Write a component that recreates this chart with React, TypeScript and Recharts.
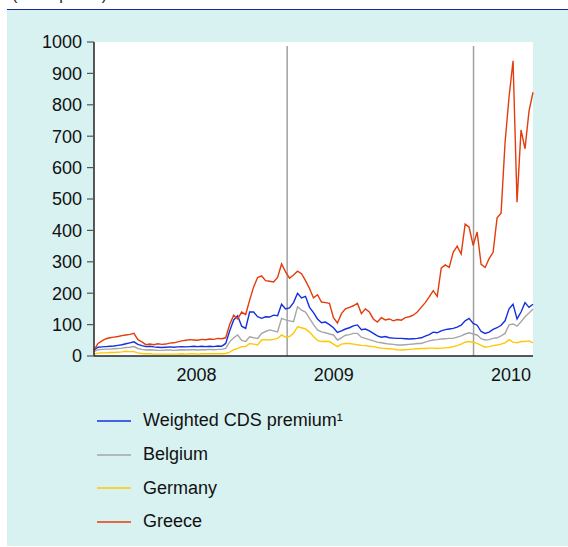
import React from "react";
import { CartesianGrid, Line, LineChart, ReferenceLine, XAxis, YAxis } from "recharts";

// x is a plain sample index, 0..110 across the plot
const yearLabels = ["2008", "2009", "2010"];
const yearTickPos = [25.7, 60.1, 104.5];
const eventMarks = [48.4, 95.1];
const yTicks = [0, 100, 200, 300, 400, 500, 600, 700, 800, 900, 1000];

const weighted = [
  19, 28, 29, 30, 31, 32, 34, 36, 39, 42, 45, 37, 33, 30, 31, 29, 28, 27, 28, 29,
  28, 29, 30, 29, 30, 31, 30, 31, 30, 31, 30, 32, 31, 40, 80, 115, 128, 95, 88, 140,
  140, 125, 120, 125, 124, 130, 128, 165, 150, 153, 170, 200, 185, 190, 155, 138, 118, 106, 108, 100,
  90, 75, 80, 86, 90, 96, 99, 84, 86, 80, 72, 64, 60, 62, 58, 57, 56, 56, 55, 54,
  55, 56, 58, 63, 68, 76, 74, 80, 84, 86, 88, 92, 98, 112, 120, 104, 98, 78, 72, 76,
  85, 90, 98, 112, 150, 165, 118, 140, 170, 155, 165,
];

const belgium = [
  14, 20, 21, 22, 22, 23, 24, 25, 27, 28, 30, 24, 21, 19, 20, 19, 18, 18, 19, 19,
  18, 19, 20, 19, 20, 20, 19, 20, 20, 21, 20, 21, 21, 24, 45, 58, 67, 50, 46, 61,
  58, 56, 72, 78, 83, 80, 77, 120, 115, 112, 109, 157, 146, 140, 120, 100, 83, 77, 74, 70,
  67, 51, 58, 66, 68, 72, 72, 60, 56, 52, 48, 44, 42, 40, 38, 37, 35, 35, 36, 37,
  38, 40, 40, 44, 48, 51, 52, 54, 55, 56, 56, 60, 64, 70, 74, 70, 67, 55, 51, 52,
  56, 58, 64, 72, 99, 102, 95, 109, 125, 137, 150,
];

const germany = [
  6, 9, 10, 10, 11, 11, 12, 13, 15, 14, 14, 10, 8, 7, 7, 6, 6, 6, 6, 6,
  6, 6, 7, 6, 7, 7, 6, 7, 7, 7, 7, 7, 7, 8, 12, 20, 24, 30, 30, 40,
  38, 35, 51, 52, 51, 53, 56, 67, 60, 62, 72, 93, 90, 86, 76, 62, 50, 46, 47, 46,
  38, 30, 38, 40, 40, 38, 36, 34, 33, 31, 30, 27, 25, 24, 23, 22, 20, 19, 20, 21,
  22, 23, 24, 24, 25, 25, 24, 25, 26, 27, 30, 33, 38, 44, 46, 44, 40, 34, 28, 30,
  33, 35, 38, 42, 52, 44, 42, 46, 46, 48, 42,
];

const greece = [
  19, 40, 48, 55, 58, 60, 62, 65, 67, 69, 72, 52, 45, 36, 38, 36, 39, 37, 38, 41,
  42, 45, 48, 50, 52, 51, 50, 53, 52, 54, 53, 56, 55, 58, 100, 130, 118, 140, 132, 178,
  220, 250, 255, 240, 238, 236, 250, 293, 268, 248, 258, 270, 262, 240, 215, 185, 195, 172, 170, 168,
  122, 105, 135, 150, 155, 160, 168, 135, 150, 140, 118, 108, 122, 115, 118, 112, 116, 114, 122, 125,
  130, 140, 155, 170, 188, 208, 190, 280, 290, 282, 330, 350, 325, 420, 410, 352, 395, 292, 282, 310,
  330, 440, 455, 680, 825, 940, 490, 720, 660, 780, 840,
];

const SERIES = [
  { key: "weighted", name: "Weighted CDS premium¹", color: "#1430e0", values: weighted },
  { key: "belgium", name: "Belgium", color: "#a6a6a6", values: belgium },
  { key: "germany", name: "Germany", color: "#ffc800", values: germany },
  { key: "greece", name: "Greece", color: "#e43c0a", values: greece },
];

// back to front: Greece drawn last
const DRAW_ORDER = ["germany", "belgium", "weighted", "greece"];

const data = greece.map((_, i) => {
  const row: Record<string, number> = { i };
  SERIES.forEach((s) => {
    row[s.key] = s.values[i];
  });
  return row;
});

const FONT = '"Liberation Sans", Arial, sans-serif';

function ChartLegend() {
  return (
    <div style={{ position: "absolute", left: 97, top: 404, fontFamily: FONT }}>
      {SERIES.map((s) => (
        <div key={s.key} style={{ display: "flex", alignItems: "center", height: 33.7 }}>
          <svg width={34} height={4} style={{ marginRight: 12 }}>
            <line x1={0} y1={2} x2={34} y2={2} stroke={s.color} strokeWidth={1.5} />
          </svg>
          <span style={{ fontSize: 18, color: "#111" }}>{s.name}</span>
        </div>
      ))}
    </div>
  );
}

export default function App() {
  return (
    <div
      style={{
        position: "absolute",
        left: 0,
        top: 0,
        width: 568,
        height: 547,
        background: "#fff",
        overflow: "hidden",
        fontFamily: FONT,
      }}
    >
      <div style={{ position: "absolute", left: 12, top: -13.5, fontSize: 16, lineHeight: "16px", color: "#222" }}>
        (basis points)
      </div>
      <div style={{ position: "absolute", left: 7, top: 10, width: 561, height: 536, background: "#d8f1f1" }} />
      <div style={{ position: "absolute", left: 7, top: 9, width: 561, height: 1.2, background: "#1a2a8e" }} />

      <div style={{ position: "absolute", left: 0, top: 0 }}>
        <LineChart width={568} height={547} data={data} margin={{ top: 42, right: 35, bottom: 161, left: 34 }}>
          <CartesianGrid horizontal={false} vertical={false} fill="#ffffff" />
          <XAxis
            dataKey="i"
            type="number"
            domain={[0, 110]}
            ticks={yearTickPos}
            interval={0}
            tickFormatter={(v: number) => yearLabels[yearTickPos.indexOf(v)]}
            tickLine={false}
            tickSize={0}
            tickMargin={12}
            height={30}
            axisLine={{ stroke: "#222", strokeWidth: 1.5 }}
            tick={{ fill: "#111", fontSize: 18, fontFamily: FONT }}
          />
          <XAxis
            xAxisId="top"
            dataKey="i"
            type="number"
            domain={[0, 110]}
            orientation="top"
            height={0}
            tick={false}
            tickLine={false}
            axisLine={{ stroke: "#444", strokeWidth: 1.5 }}
          />
          <YAxis
            type="number"
            domain={[0, 1000]}
            ticks={yTicks}
            interval={0}
            width={60}
            tickSize={7}
            tickMargin={5}
            tickLine={{ stroke: "#555", strokeWidth: 1.2 }}
            axisLine={{ stroke: "#222", strokeWidth: 1.5 }}
            tick={{ fill: "#111", fontSize: 18, fontFamily: FONT }}
          />
          <YAxis
            yAxisId="right"
            orientation="right"
            type="number"
            domain={[0, 1000]}
            width={0}
            tick={false}
            tickLine={false}
            axisLine={{ stroke: "#444", strokeWidth: 1.5 }}
          />
          {eventMarks.map((x) => (
            <ReferenceLine
              key={x}
              segment={[
                { x, y: 0 },
                { x, y: 987 },
              ]}
              stroke="#a0a0a0"
              strokeWidth={1.5}
            />
          ))}
          {DRAW_ORDER.map((key) => {
            const s = SERIES.find((d) => d.key === key)!;
            return (
              <Line
                key={s.key}
                type="linear"
                dataKey={s.key}
                name={s.name}
                stroke={s.color}
                strokeWidth={1.4}
                dot={false}
                isAnimationActive={false}
              />
            );
          })}
        </LineChart>
      </div>

      <ChartLegend />
    </div>
  );
}
